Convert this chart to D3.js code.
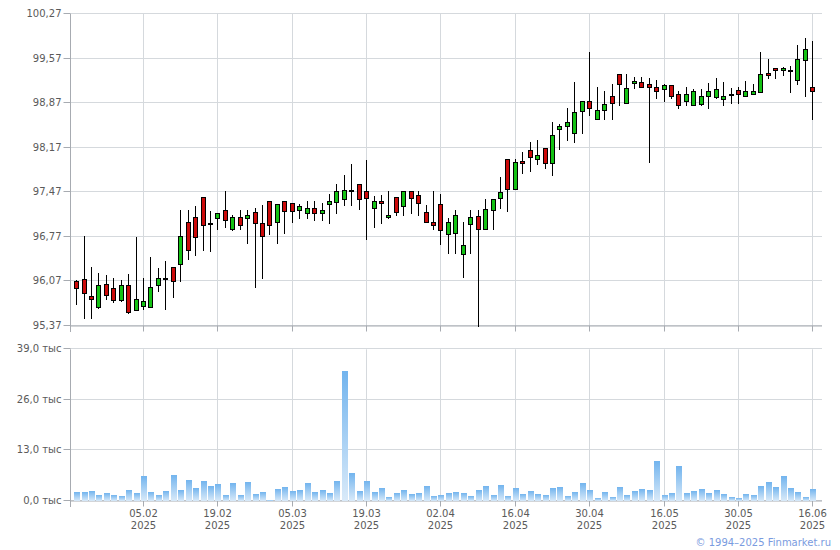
<!DOCTYPE html>
<html><head><meta charset="utf-8">
<script src="https://cdn.jsdelivr.net/npm/d3@7"></script>
<style>
body{margin:0;background:#fff}
svg{display:block}
text{font-family:"DejaVu Sans",Verdana,sans-serif;font-size:10px;fill:#5a5a5a}
</style>
</head><body>
<svg id="c" width="840" height="550"></svg>
<script>
const dates = [
"23.01","24.01","27.01","28.01","29.01","30.01","31.01","03.02","04.02","05.02",
"06.02","07.02","10.02","11.02","12.02","13.02","14.02","17.02","18.02","19.02",
"20.02","21.02","24.02","25.02","26.02","27.02","28.02","03.03","04.03","05.03",
"06.03","07.03","10.03","11.03","12.03","13.03","14.03","17.03","18.03","19.03",
"20.03","21.03","24.03","25.03","26.03","27.03","28.03","31.03","01.04","02.04",
"03.04","04.04","07.04","08.04","09.04","10.04","11.04","14.04","15.04","16.04",
"17.04","18.04","21.04","22.04","23.04","24.04","25.04","28.04","29.04","30.04",
"02.05","05.05","06.05","07.05","08.05","12.05","13.05","14.05","15.05","16.05",
"19.05","20.05","21.05","22.05","23.05","26.05","27.05","28.05","29.05","30.05",
"02.06","03.06","04.06","05.06","06.06","09.06","10.06","11.06","13.06","16.06"];

const open = [
96.08,96.11,95.84,95.67,96.03,95.96,95.78,96.02,95.62,95.69,
95.67,96.02,96.13,96.30,96.35,97.00,97.08,97.39,96.98,97.07,
97.19,96.89,97.08,97.07,97.16,96.98,97.33,97.00,97.33,97.30,
97.19,97.14,97.22,97.14,97.28,97.31,97.36,97.50,97.60,97.49,
97.22,97.33,97.08,97.39,97.25,97.49,97.42,97.16,97.00,97.28,
96.81,96.83,96.50,96.97,97.09,96.90,97.19,97.38,97.99,97.52,
97.96,98.13,98.00,98.16,97.93,98.47,98.51,98.40,98.74,98.91,
98.62,98.76,98.99,99.32,98.88,99.18,99.20,99.17,99.12,99.09,
99.15,99.01,98.90,98.84,98.85,98.99,98.96,98.93,99.01,99.07,
98.99,99.01,99.04,99.34,99.42,99.39,99.39,99.23,99.54,99.12];

const high = [
96.09,96.79,96.29,96.20,96.17,96.12,96.10,96.18,96.76,96.12,
96.46,96.28,96.39,96.30,97.19,97.19,97.25,97.39,97.17,97.15,
97.49,97.12,97.19,97.19,97.22,97.27,97.33,97.28,97.33,97.30,
97.28,97.34,97.33,97.30,97.45,97.60,97.74,97.91,97.60,97.97,
97.41,97.42,97.49,97.39,97.49,97.49,97.49,97.27,97.49,97.44,
97.06,97.19,97.01,97.19,97.19,97.36,97.36,97.71,97.99,97.99,
98.10,98.26,98.29,98.16,98.58,98.54,98.79,99.20,98.91,99.68,
99.12,99.06,99.17,99.32,99.32,99.28,99.28,99.26,99.23,99.17,
99.15,99.06,99.12,99.09,99.09,99.18,99.26,99.20,99.10,99.13,
99.21,99.17,99.68,99.57,99.42,99.43,99.45,99.79,99.89,99.84];

const low = [
95.71,95.50,95.50,95.66,95.80,95.75,95.77,95.58,95.62,95.64,
95.67,95.92,95.63,95.83,96.08,96.43,96.49,96.56,96.55,96.89,
96.93,96.88,96.89,96.67,95.99,96.13,96.81,96.67,96.83,97.01,
97.07,97.07,97.04,97.04,96.99,97.14,97.27,97.27,97.21,96.74,
96.93,96.99,97.06,97.12,97.11,97.14,97.11,97.00,96.89,96.66,
96.52,96.52,96.14,96.52,95.37,96.89,96.89,97.22,97.17,97.52,
97.78,97.80,97.91,97.85,97.74,98.15,98.29,98.26,98.40,98.69,
98.62,98.62,98.62,98.84,98.88,99.10,99.12,97.94,98.95,98.90,
98.95,98.79,98.84,98.84,98.84,98.80,98.95,98.84,98.87,98.87,
98.99,99.01,99.04,99.26,99.26,99.31,99.04,99.17,98.99,98.62];

const close = [
95.96,95.89,95.80,96.01,95.86,95.78,96.02,95.59,95.79,95.76,
95.98,96.12,96.13,96.08,96.79,96.57,96.77,96.95,96.98,97.15,
97.04,97.08,96.95,97.11,96.98,96.78,96.96,97.28,97.18,97.17,
97.25,97.22,97.14,97.19,97.34,97.49,97.50,97.50,97.36,97.38,
97.33,97.30,97.12,97.16,97.49,97.38,97.30,97.00,96.95,96.87,
97.01,97.11,96.64,97.08,96.89,97.20,97.36,97.47,97.52,97.94,
97.93,98.02,98.05,97.93,98.37,98.51,98.58,98.73,98.90,98.79,
98.76,98.85,98.88,99.17,99.10,99.21,99.12,99.13,99.06,99.15,
98.99,98.84,99.01,99.06,98.98,99.06,99.09,98.99,99.01,99.01,
99.06,99.06,99.32,99.31,99.39,99.42,99.39,99.56,99.72,99.06];

// volume, thousands
const volume = [
2.3,2.3,2.6,1.5,2.1,1.5,1.3,2.8,2.1,6.4,
2.3,1.5,2.6,6.7,2.8,5.4,3.3,5.1,3.9,4.4,
1.5,4.6,1.5,4.9,1.8,2.3,0.3,3.1,3.6,2.6,
2.8,4.6,2.3,2.8,2.1,5.1,33.4,7.2,2.6,5.1,
2.3,3.3,1.0,2.1,2.8,1.8,2.1,3.9,1.3,1.5,
2.1,2.3,2.1,1.3,2.8,3.9,1.5,4.1,1.3,3.3,
1.8,2.6,1.8,1.5,3.3,3.6,1.3,2.3,4.6,2.8,
0.8,2.3,1.0,3.6,1.5,2.6,3.1,2.8,10.3,1.5,
2.1,9.0,2.1,2.6,3.1,2.1,2.8,1.8,1.0,0.8,
1.8,1.5,3.9,4.9,3.6,6.4,3.3,2.3,1.0,3.1];

const priceTicks = [95.37,96.07,96.77,97.47,98.17,98.87,99.57,100.27];
const volumeTicks = [0,13,26,39];
const dateTicks = ["05.02","19.02","05.03","19.03","02.04","16.04","30.04","16.05","30.05","16.06"];
const yearLabel = "2025";
const copyright = "\u00a9 1994\u20132025 Finmarket.ru";

const L = 70, R = 822;
const P = {top:14, bottom:326};
const V = {top:349.3, bottom:501};
const GRID = "#d5d9dd", AXIS = "#a7abb1";
const UP = "#14c214", DOWN = "#cc0a0a";

const svg = d3.select("#c");
const defs = svg.append("defs");
const g = defs.append("linearGradient").attr("id","vg").attr("x1",0).attr("y1",0).attr("x2",0).attr("y2",1);
g.append("stop").attr("offset","0%").attr("stop-color","#72b4ee");
g.append("stop").attr("offset","100%").attr("stop-color","#d9eaf9");

const x = d3.scalePoint().domain(dates).range([77.1, 813.3]);
const yP = d3.scaleLinear().domain([95.37,100.27]).range([P.bottom,P.top]);
const yV = d3.scaleLinear().domain([0,39]).range([V.bottom,V.top]);
const px = d => Math.round(x(d)) - 0.5;
const crisp = v => Math.round(v) + 0.5;

function panel(y, top, bottom, ticks, fmt, xlabels){
  const grid = svg.append("g");
  grid.selectAll(".h").data(ticks).join("line")
    .attr("x1",L).attr("x2",R).attr("y1",d=>crisp(y(d))-1).attr("y2",d=>crisp(y(d))-1)
    .attr("stroke",GRID);
  grid.selectAll(".v").data(dateTicks).join("line")
    .attr("x1",px).attr("x2",px).attr("y1",top).attr("y2",bottom)
    .attr("stroke",GRID);
  // bottom axis
  const ax = d3.axisBottom(x).tickValues(dateTicks).tickSize(6).tickSizeOuter(0)
    .tickFormat(xlabels ? (d=>d) : "");
  const gb = svg.append("g").attr("transform",`translate(0,${crisp(bottom)-1})`).call(ax);
  gb.select(".domain").attr("stroke",AXIS).attr("d",`M${L},0.5H${R}`);
  gb.selectAll(".tick line").attr("stroke",AXIS).attr("x1",0).attr("x2",0)
    .attr("transform",function(){return "";});
  gb.selectAll(".tick").attr("transform",d=>`translate(${px(d)},0)`);
  if (xlabels){
    gb.selectAll(".tick text").attr("y",16).attr("dy",0).attr("fill","#5a5a5a")
      .style("font-family",'"DejaVu Sans",Verdana,sans-serif').style("font-size","10px")
      .each(function(){
        d3.select(this).append("tspan").attr("x",0).attr("y",28).text(yearLabel);
      });
  }
  // left axis
  const al = d3.axisLeft(y).tickValues(ticks).tickSize(7).tickSizeOuter(0).tickPadding(2).tickFormat(fmt);
  const gl = svg.append("g").attr("transform",`translate(${L+0.5},0)`).call(al);
  gl.select(".domain").attr("stroke",AXIS).attr("d",`M0,${top}V${bottom+6}`);
  gl.selectAll(".tick").attr("transform",d=>`translate(0,${crisp(y(d))-1})`);
  gl.selectAll(".tick line").attr("stroke",AXIS);
  gl.selectAll(".tick text").attr("fill","#5a5a5a")
    .style("font-family",'"DejaVu Sans",Verdana,sans-serif').style("font-size","10px");
}

panel(yP, P.top, P.bottom, priceTicks, d=>d.toFixed(2).replace(".",","), false);
panel(yV, V.top, V.bottom, volumeTicks, d=>d.toFixed(1).replace(".",",")+" тыс", true);

// volume bars
svg.append("g").selectAll("rect").data(dates).join("rect")
  .attr("x",d=>Math.round(x(d))-3)
  .attr("width",6)
  .attr("y",(d,i)=>Math.round(yV(volume[i])))
  .attr("height",(d,i)=>Math.max(0, Math.round(yV(0)) - Math.round(yV(volume[i]))))
  .attr("fill","url(#vg)");

// candles
const cg = svg.append("g");
dates.forEach((d,i)=>{
  const cx = px(d);
  cg.append("line").attr("x1",cx).attr("x2",cx)
    .attr("y1",Math.round(yP(high[i]))).attr("y2",Math.round(yP(low[i]))+1)
    .attr("stroke","#000").attr("stroke-width",1);
  const o = open[i], c = close[i];
  const t = Math.round(yP(Math.max(o,c))), b = Math.round(yP(Math.min(o,c)));
  const col = c > o ? UP : (c < o ? DOWN : "#000");
  cg.append("rect").attr("x",cx-2).attr("width",4)
    .attr("y",t+0.5).attr("height",Math.max(1,b-t))
    .attr("fill",col).attr("stroke","#000").attr("stroke-width",1);
});

svg.append("text").attr("x",831).attr("y",546).attr("text-anchor","end")
  .attr("fill","#7a9be0").style("fill","#7a9be0").text(copyright);
</script>
</body></html>
